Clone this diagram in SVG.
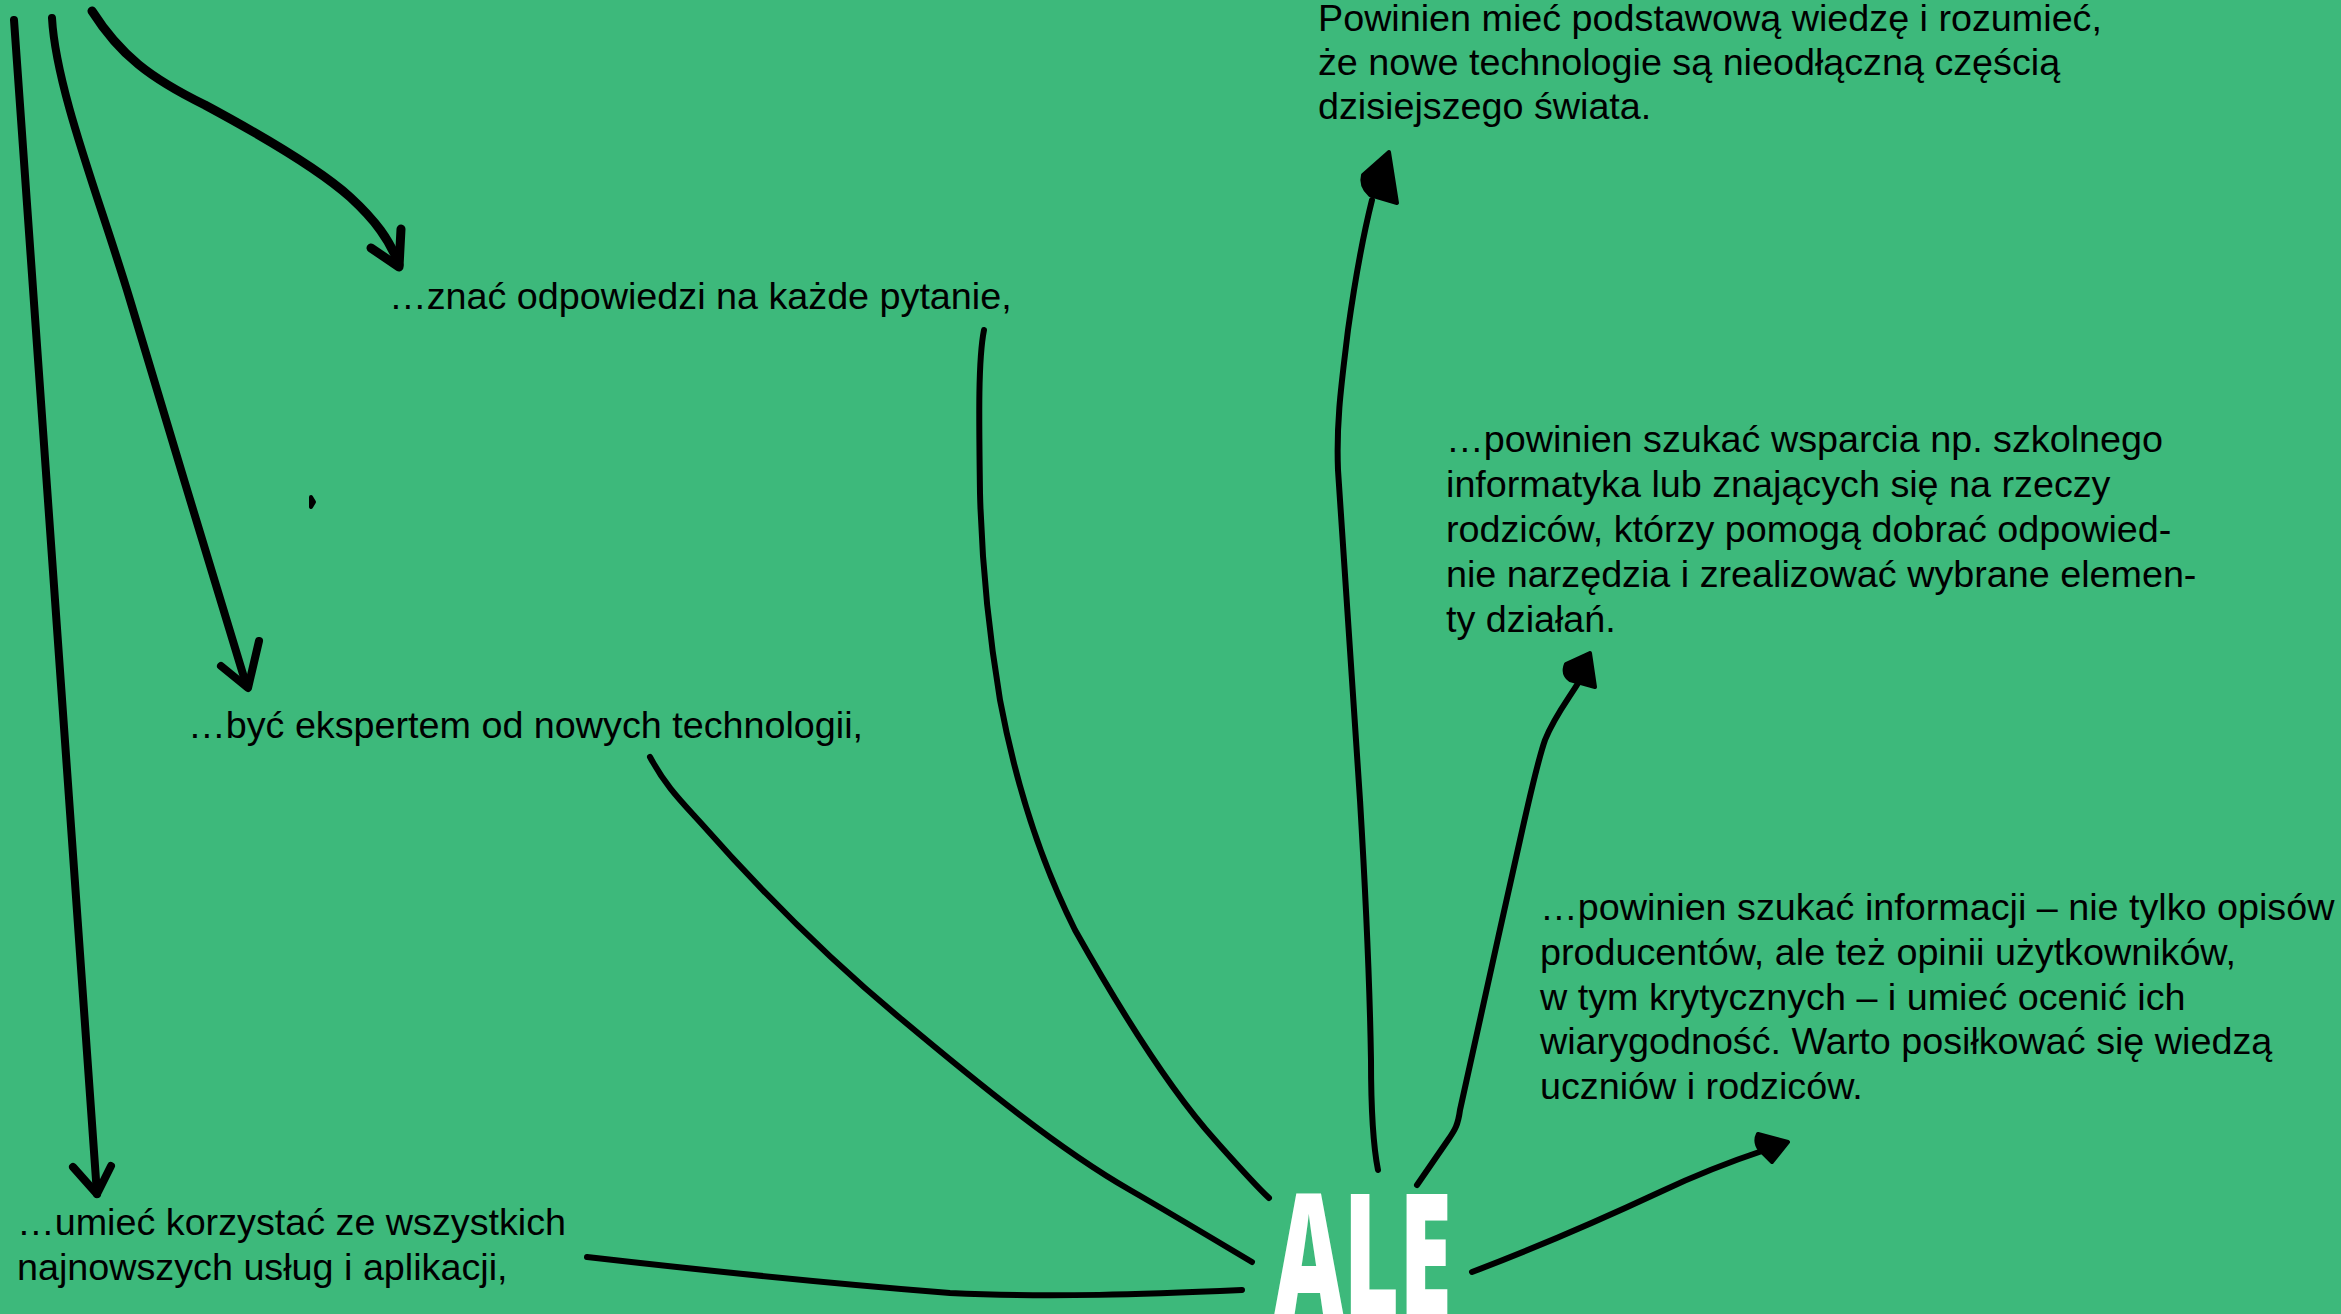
<svg xmlns="http://www.w3.org/2000/svg" width="2341" height="1314" viewBox="0 0 2341 1314">
<style>
.t{font-family:"Liberation Sans",Arial,sans-serif;font-size:36px;fill:#000}
.ln{fill:none;stroke:#000;stroke-linecap:round;stroke-linejoin:round}
.hd{fill:#000;stroke:#000;stroke-width:4;stroke-linejoin:round}
.ale{font-family:"Noto Sans","Liberation Sans",sans-serif;font-stretch:extra-condensed;font-weight:900;font-size:171px;fill:#fff}
</style>
<rect width="2341" height="1314" fill="#3db97b"/>
<g id="connectors">
<path class="ln" stroke-width="8" d="M14,20 L97,1194"/>
<path class="ln" stroke-width="8" d="M73,1167 L97,1194 L111,1166"/>
<path class="ln" stroke-width="8" d="M52,18 C56,90 100,200 130,300 S220,600 246,684"/>
<path class="ln" stroke-width="8" d="M221,666 L248,688 L259,641"/>
<path class="ln" stroke-width="9" d="M92,11 C120,55 150,78 205,105 C270,140 320,170 350,197 C375,220 390,240 399,265"/>
<path class="ln" stroke-width="9" d="M371,248 L399,267 L401,229"/>
<path class="ln" stroke-width="6" d="M984,330 C978,360 979,420 980,493 C982,570 990,640 1000,700 C1015,780 1040,860 1075,930 C1120,1010 1170,1090 1215,1140 C1240,1168 1255,1185 1269,1198"/>
<path class="ln" stroke-width="6" d="M650,757 C665,785 680,800 700,822 C760,890 830,960 900,1018 C980,1085 1060,1150 1130,1190 C1170,1213 1215,1240 1252,1262"/>
<path class="ln" stroke-width="6" d="M587,1257 C700,1270 850,1285 950,1293 C1050,1298 1150,1294 1242,1290"/>
<path class="ln" stroke-width="6" d="M1378,1170 C1372,1140 1371,1100 1371,1060 C1370,1000 1366,900 1360,800 C1352,680 1343,560 1338,470 C1336,420 1342,380 1348,330 C1355,280 1362,240 1372,200"/>
<path class="hd" d="M1389,152 L1363,175 Q1360,186 1370,195 L1397,203 Z"/>
<path class="ln" stroke-width="6" d="M1417,1185 L1448,1140 C1455,1130 1458,1125 1460,1110 C1475,1040 1500,930 1520,840 C1530,795 1538,760 1545,740 C1555,715 1568,700 1580,680"/>
<path class="hd" d="M1590,653 L1566,664 Q1562,674 1570,680 L1595,687 Z"/>
<path class="ln" stroke-width="6" d="M1472,1272 C1530,1250 1600,1220 1660,1192 C1700,1173 1735,1160 1765,1150"/>
<path class="hd" d="M1788,1142 L1758,1134 Q1754,1142 1760,1150 L1772,1162 Z"/>
<path class="hd" stroke-width="2" d="M311,497 L314,502 L311,507 Z"/>
</g>
<g id="node-znac" transform="translate(389,309) scale(1.048,1)"><text class="t" x="0" y="0">…znać odpowiedzi na każde pytanie,</text></g>
<g id="node-byc" transform="translate(188,738) scale(1.048,1)"><text class="t" x="0" y="0">…być ekspertem od nowych technologii,</text></g>
<g id="node-umiec" transform="translate(17,1235) scale(1.048,1)"><text class="t" x="0" y="0">…umieć korzystać ze wszystkich<tspan x="0" dy="45">najnowszych usług i aplikacji,</tspan></text></g>
<g id="node-wiedza" transform="translate(1318,31) scale(1.048,1)"><text class="t" x="0" y="0">Powinien mieć podstawową wiedzę i rozumieć,<tspan x="0" dy="44.2">że nowe technologie są nieodłączną częścią</tspan><tspan x="0" dy="44.2">dzisiejszego świata.</tspan></text></g>
<g id="node-wsparcie" transform="translate(1446,452) scale(1.048,1)"><text class="t" x="0" y="0">…powinien szukać wsparcia np. szkolnego<tspan x="0" dy="45">informatyka lub znających się na rzeczy</tspan><tspan x="0" dy="45">rodziców, którzy pomogą dobrać odpowied-</tspan><tspan x="0" dy="45">nie narzędzia i zrealizować wybrane elemen-</tspan><tspan x="0" dy="45">ty działań.</tspan></text></g>
<g id="node-informacje" transform="translate(1540,920) scale(1.048,1)"><text class="t" x="0" y="0">…powinien szukać informacji – nie tylko opisów<tspan x="0" dy="44.8">producentów, ale też opinii użytkowników,</tspan><tspan x="0" dy="44.8">w tym krytycznych – i umieć ocenić ich</tspan><tspan x="0" dy="44.8">wiarygodność. Warto posiłkować się wiedzą</tspan><tspan x="0" dy="44.8">uczniów i rodziców.</tspan></text></g>
<g id="node-ale"><text class="ale" x="1274" y="1316" textLength="178" lengthAdjust="spacingAndGlyphs">ALE</text></g>
</svg>
